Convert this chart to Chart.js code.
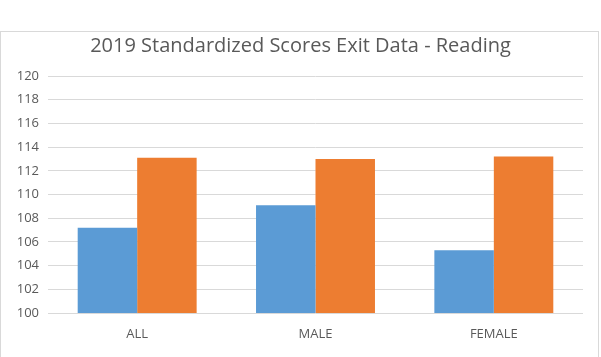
<!DOCTYPE html>
<html>
<head>
<meta charset="utf-8">
<script src="https://cdn.jsdelivr.net/npm/chart.js@4.4.1/dist/chart.umd.min.js"></script>
<style>
  html, body { margin: 0; padding: 0; background: #ffffff; overflow: hidden; }
  #frame { position: absolute; left: 0; top: 31px; width: 599px; height: 400px; border: 1px solid #d9d9d9; box-sizing: border-box; }
  #wrap { position: absolute; left: 0; top: 0; width: 601px; height: 357px; }
</style>
</head>
<body>
<div id="frame"></div>
<div id="wrap"><canvas id="c" width="601" height="357"></canvas></div>
<script>
const titleText = "2019 Standardized Scores Exit Data - Reading";
const categories = ["ALL", "MALE", "FEMALE"];
const seriesA = [107.2, 109.1, 105.3];
const seriesB = [113.1, 113.0, 113.2];
const yMin = 100, yMax = 120, yStep = 2;

const fontFamily = "'Open Sans', 'Liberation Sans', sans-serif";
const textColor = "#595959";

new Chart(document.getElementById("c"), {
  type: "bar",
  data: {
    labels: categories,
    datasets: [
      { label: "Series 1", data: seriesA, backgroundColor: "#5b9bd5", borderWidth: 0 },
      { label: "Series 2", data: seriesB, backgroundColor: "#ed7d31", borderWidth: 0 }
    ]
  },
  options: {
    responsive: false,
    animation: false,
    devicePixelRatio: 1,
    layout: { padding: 0 },
    datasets: { bar: { categoryPercentage: 0.667, barPercentage: 1.0 } },
    plugins: {
      legend: { display: false },
      tooltip: { enabled: false },
      title: {
        display: true,
        text: titleText,
        color: textColor,
        font: { family: fontFamily, size: 20, weight: "normal", lineHeight: 1.2 },
        padding: { top: 34, bottom: 18 }
      }
    },
    scales: {
      x: {
        grid: { display: false, drawTicks: false },
        border: { display: false },
        ticks: { color: textColor, font: { family: fontFamily, size: 13 }, padding: 13 },
        afterFit: (s) => { s.height = 44; }
      },
      y: {
        min: yMin, max: yMax,
        grid: { color: "#d9d9d9", lineWidth: 1, drawTicks: false },
        border: { display: false },
        ticks: { stepSize: yStep, color: textColor, font: { family: fontFamily, size: 13 }, padding: 9 },
        afterFit: (s) => { s.width = 48; }
      },
      yRight: {
        position: "right",
        display: true,
        min: yMin, max: yMax,
        grid: { display: false, drawTicks: false },
        border: { display: false },
        ticks: { display: false },
        afterFit: (s) => { s.width = 18; }
      }
    }
  }
});
</script>
</body>
</html>
